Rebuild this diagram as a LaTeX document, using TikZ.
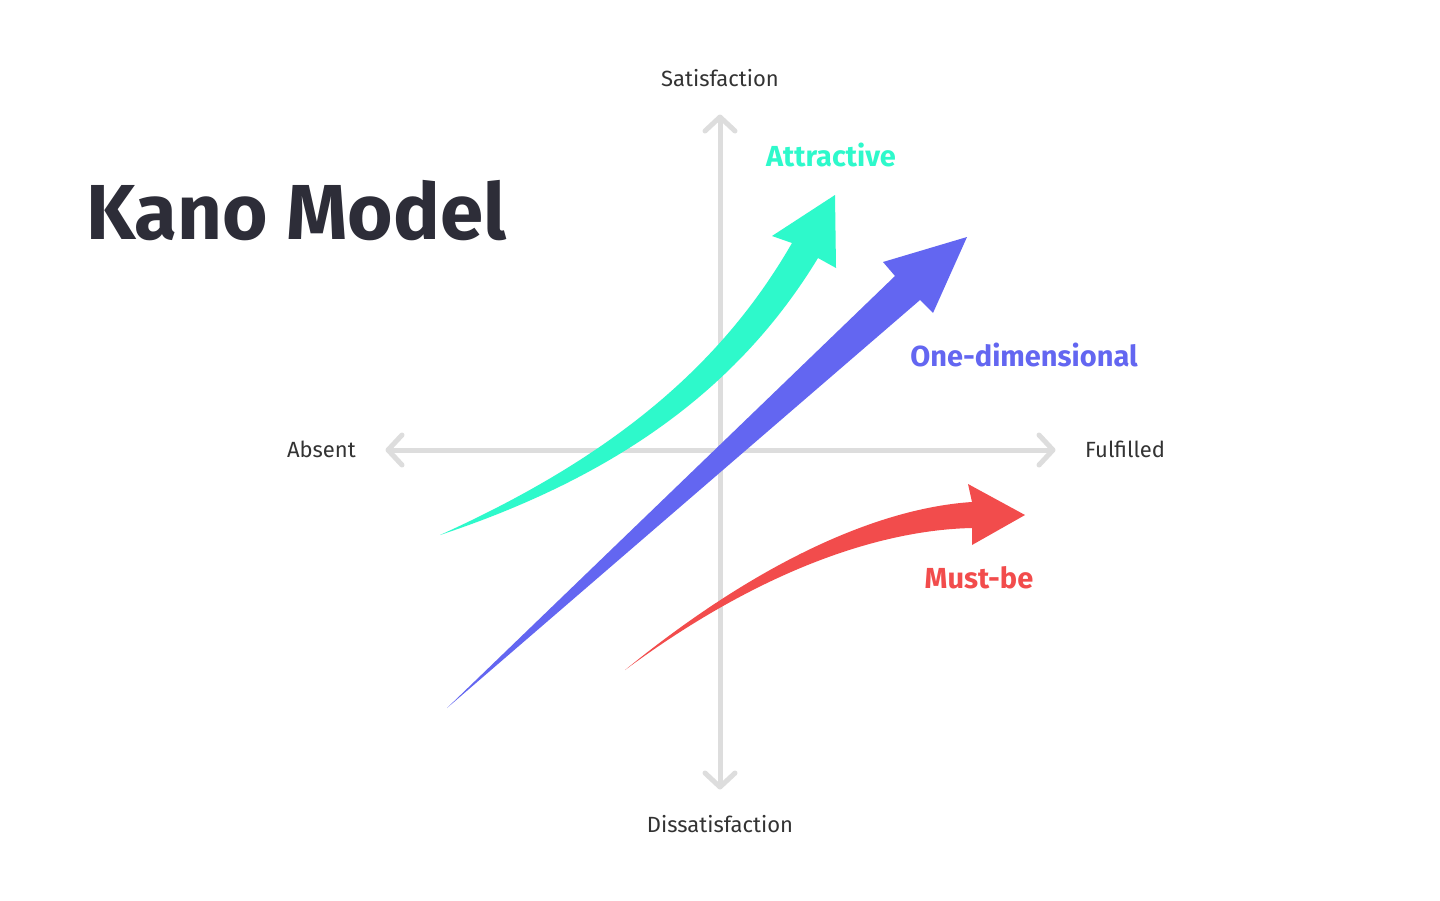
\documentclass[tikz,border=0pt]{standalone}
\usepackage{fontspec}
\setmainfont{Fira Sans}
\definecolor{axisgray}{HTML}{DDDDDD}
\definecolor{attr}{HTML}{2EF9CB}
\definecolor{oned}{HTML}{6366F1}
\definecolor{must}{HTML}{F24C4C}
\definecolor{titlec}{HTML}{2D2D38}
\definecolor{txt}{HTML}{333333}
\begin{document}
\begin{tikzpicture}[x=1pt,y=-1pt,
  axis/.style={draw=axisgray,line width=5pt},
  chev/.style={draw=axisgray,line width=5pt,line cap=round,line join=round},
  axlabel/.style={font=\fontsize{22}{26}\selectfont,text=txt,inner sep=0pt},
  curvelabel/.style={font=\fontsize{29}{34}\selectfont\bfseries,inner sep=0pt}]
\useasboundingbox[fill=white] (0,0) rectangle (1440,900);
% axes
\coordinate (L) at (388,450); \coordinate (R) at (1053,450);
\coordinate (T) at (720,117); \coordinate (B) at (720,787);
\draw[axis] (L) -- (R);
\draw[axis] (T) -- (B);
\draw[chev] (402,435) -- (L) -- (402,465);
\draw[chev] (1039,435) -- (R) -- (1039,465);
\draw[chev] (705,131) -- (T) -- (735,131);
\draw[chev] (705,773) -- (B) -- (735,773);
% labels
\node[axlabel] (sat) at (720,78) {Satisfaction};
\node[axlabel] (dis) at (720,824) {Dissatisfaction};
\node[axlabel,anchor=east] (abs) at (356,449) {Absent};
\node[axlabel,anchor=west] (ful) at (1085,449) {Fulfilled};
\node[anchor=west,inner sep=0pt,text=titlec,font=\fontsize{78}{90}\selectfont\bfseries] (title) at (86,211) {Kano Model};
% attractive
\fill[attr] (440,535) .. controls (610,458) and (720,368) .. (792,243)
  -- (772,236) -- (835,195) -- (836,268) -- (818,258)
  .. controls (745,378) and (630,472) .. (440,535) -- cycle;
% one-dimensional
\fill[oned] (447,708) -- (895,276) -- (883,262) -- (967,237) -- (933,313) -- (920,300) -- cycle;
% must-be
\fill[must] (625,670) .. controls (760,560) and (880,508) .. (972,502)
  -- (968,484) -- (1025,515) -- (972,545) -- (972,528)
  .. controls (880,530) and (760,570) .. (625,670) -- cycle;
\node[curvelabel,text=attr] (la) at (831,155) {Attractive};
\node[curvelabel,text=oned] (lo) at (1024,355) {One-dimensional};
\node[curvelabel,text=must] (lm) at (979,578) {Must-be};
\end{tikzpicture}
\end{document}
